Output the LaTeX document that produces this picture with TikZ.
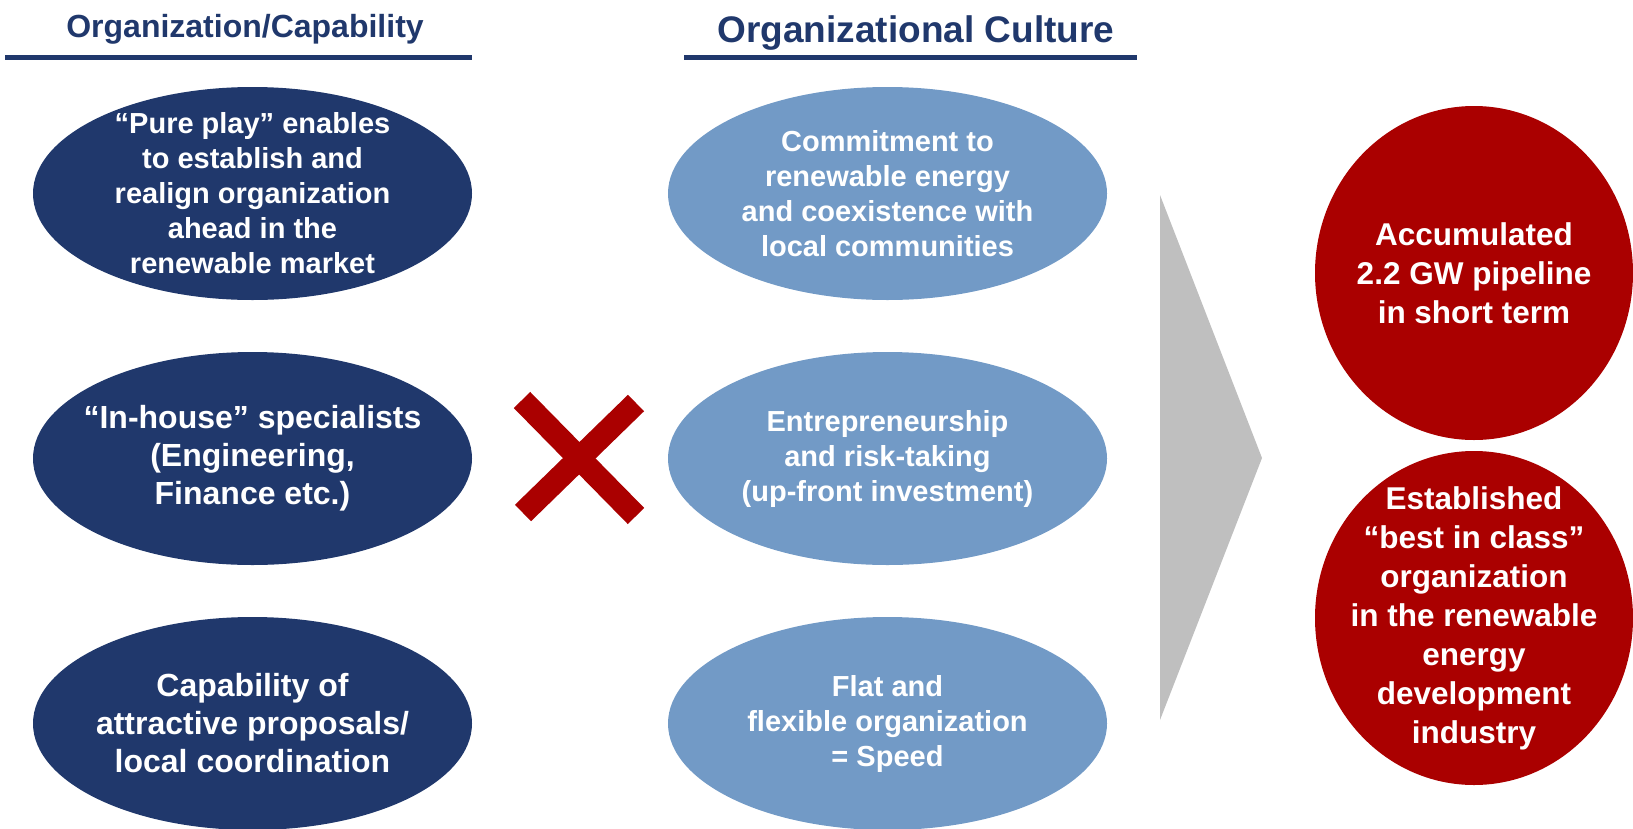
\documentclass[tikz,border=0pt]{standalone}
\usepackage{fontspec}
\setmainfont{Liberation Sans}
\usetikzlibrary{shapes.geometric}
\definecolor{navy}{RGB}{32,56,108}
\definecolor{skyblue}{RGB}{114,154,198}
\definecolor{darkred}{RGB}{170,0,0}
\definecolor{chevgray}{RGB}{191,191,191}

\begin{document}
\begin{tikzpicture}[x=1pt,y=-1pt,
	blob/.style={ellipse,inner sep=0pt,minimum width=439pt,minimum height=213pt},
	capa/.style={blob,fill=navy},
	cult/.style={blob,fill=skyblue},
	res/.style={ellipse,inner sep=0pt,fill=darkred,minimum width=318pt,minimum height=334pt},
	txt/.style={text=white,align=center,inner sep=0pt,font=\fontsize{29}{35}\selectfont\bfseries},
	bigtxt/.style={text=white,align=center,inner sep=0pt,font=\fontsize{32}{38}\selectfont\bfseries},
	restxt/.style={text=white,align=center,inner sep=0pt,font=\fontsize{31.5}{39}\selectfont\bfseries},
	head/.style={anchor=base,text=navy,inner sep=0pt}]
	\useasboundingbox (0,0) rectangle (1633,828);

	% headers
	\node[head,font=\fontsize{32}{38}\selectfont\bfseries] (capHead) at (245,37) {Organization/Capability};
	\node[head,font=\fontsize{37}{44}\selectfont\bfseries] (cultHead) at (916,42) {Organizational Culture};
	\draw[navy,line width=4.5pt] (5,57.5) -- (472,57.5);
	\draw[navy,line width=4.5pt] (684,57.5) -- (1137,57.5);

	% organization / capability
	\node[capa,label={[txt]center:“Pure play” enables\\to establish and\\realign organization\\ahead in the\\renewable market}] (cap1) at (252.5,193.5) {};
	\node[capa,label={[bigtxt]center:“In-house” specialists\\(Engineering,\\Finance etc.)}] (cap2) at (252.5,458.5) {};
	\node[capa,label={[bigtxt]center:Capability of\\attractive proposals/\\local coordination}] (cap3) at (252.5,723.5) {};

	% culture
	\node[cult,label={[txt]center:Commitment to\\renewable energy\\and coexistence with\\local communities}] (cult1) at (887.5,193.5) {};
	\node[cult,label={[txt]center:Entrepreneurship\\and risk-taking\\(up-front investment)}] (cult2) at (887.5,458.5) {};
	\node[cult,label={[txt]center:Flat and\\flexible organization\\= Speed}] (cult3) at (887.5,723.5) {};

	% the cross
	\draw[darkred,line width=23pt] (522,400) -- (636,516);
	\draw[darkred,line width=23pt] (636,403) -- (523,513);

	% chevron
	\fill[chevgray] (1160,195) -- (1262,458) -- (1160,720) -- cycle;

	% results
	\node[res,label={[restxt]center:Accumulated\\2.2 GW pipeline\\in short term}] (res1) at (1474,273) {};
	\node[res,label={[restxt]center:Established\\“best in class”\\organization\\in the renewable\\energy\\development\\industry}] (res2) at (1474,618) {};
\end{tikzpicture}
\end{document}
